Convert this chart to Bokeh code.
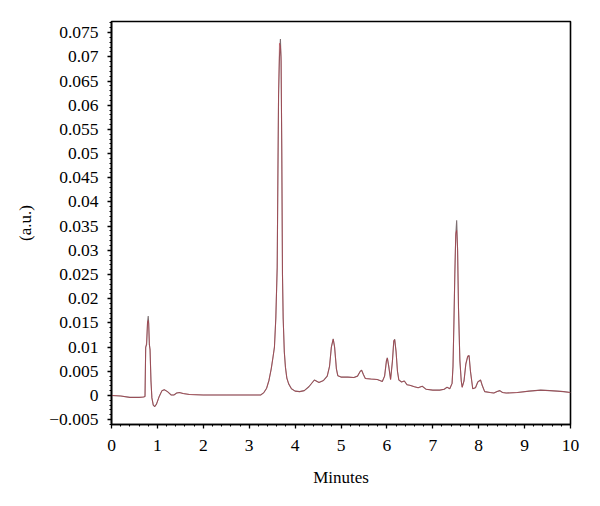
from bokeh.plotting import figure
from bokeh.models import SingleIntervalTicker, CustomJSTickFormatter, Range1d
from bokeh.embed import file_html
from bokeh.resources import INLINE

# retention time (minutes)
time_min = [0.00, 0.20, 0.40, 0.60, 0.70, 0.73, 0.745, 0.765, 0.785, 0.800,
            0.810, 0.825, 0.840, 0.860, 0.880, 0.910, 0.940, 0.980, 1.04, 1.10,
            1.15, 1.22, 1.30, 1.36, 1.42, 1.48, 1.56, 1.70, 2.00, 2.50,
            3.00, 3.25, 3.32, 3.38, 3.43, 3.48, 3.52, 3.55, 3.58, 3.61,
            3.625, 3.64, 3.66, 3.68, 3.695, 3.71, 3.725, 3.74, 3.765, 3.79,
            3.82, 3.86, 3.92, 4.00, 4.10, 4.20, 4.30, 4.42, 4.52, 4.62,
            4.70, 4.75, 4.79, 4.83, 4.86, 4.90, 4.93, 5.00, 5.15, 5.28,
            5.36, 5.42, 5.45, 5.49, 5.53, 5.65, 5.79, 5.90, 5.95, 5.99,
            6.01, 6.04, 6.08, 6.12, 6.15, 6.17, 6.20, 6.23, 6.26, 6.32,
            6.38, 6.44, 6.50, 6.60, 6.68, 6.77, 6.85, 7.00, 7.15, 7.25,
            7.31, 7.37, 7.42, 7.44, 7.46, 7.48, 7.50, 7.52, 7.54, 7.56,
            7.59, 7.62, 7.64, 7.68, 7.72, 7.76, 7.79, 7.82, 7.87, 7.93,
            7.98, 8.04, 8.08, 8.13, 8.25, 8.33, 8.40, 8.46, 8.52, 8.60,
            8.84, 9.10, 9.35, 9.55, 9.71, 9.85, 10.0]

# detector signal, dark trace (a.u.)
signal_dark = [0.0000, -0.0001, -0.0004, -0.0004, -0.0003, -0.0002, 0.0100, 0.0105, 0.0150, 0.0164,
               0.0150, 0.0105, 0.0095, 0.0030, -0.0005, -0.0020, -0.0023, -0.0018, -0.0002, 0.0010,
               0.0012, 0.0008, 0.0001, 0.0001, 0.0005, 0.0006, 0.0004, 0.0002, 0.0001, 0.0001,
               0.0001, 0.0001, 0.0006, 0.0015, 0.0031, 0.0055, 0.0080, 0.0100, 0.0160, 0.0265,
               0.0450, 0.0620, 0.0700, 0.0737, 0.0690, 0.0500, 0.0250, 0.0160, 0.0090, 0.0058,
               0.0036, 0.0024, 0.0014, 0.0009, 0.0008, 0.0010, 0.0018, 0.0032, 0.0027, 0.0031,
               0.0040, 0.0060, 0.0100, 0.0117, 0.0100, 0.0055, 0.0041, 0.0038, 0.0038, 0.0037,
               0.0040, 0.0050, 0.0052, 0.0043, 0.0035, 0.0034, 0.0033, 0.0029, 0.0040, 0.0072,
               0.0078, 0.0060, 0.0033, 0.0070, 0.0112, 0.0116, 0.0090, 0.0050, 0.0032, 0.0028,
               0.0030, 0.0022, 0.0021, 0.0018, 0.0016, 0.0019, 0.0013, 0.0011, 0.0011, 0.0013,
               0.0017, 0.0014, 0.0025, 0.0060, 0.0150, 0.0250, 0.0330, 0.0362, 0.0300, 0.0180,
               0.0072, 0.0030, 0.0017, 0.0030, 0.0065, 0.0080, 0.0083, 0.0050, 0.0014, 0.0016,
               0.0028, 0.0032, 0.0020, 0.0008, 0.0006, 0.0005, 0.0008, 0.0010, 0.0006, 0.0005,
               0.0006, 0.0009, 0.0011, 0.0010, 0.0009, 0.0008, 0.0006]

# detector signal, red trace (a.u.)
signal_red = [0.0000, -0.0001, -0.0004, -0.0004, -0.0003, -0.0002, 0.0098, 0.0110, 0.0152, 0.0155,
              0.0148, 0.0106, 0.0094, 0.0030, -0.0005, -0.0020, -0.0023, -0.0018, -0.0002, 0.0010,
              0.0012, 0.0008, 0.0001, 0.0001, 0.0005, 0.0006, 0.0004, 0.0002, 0.0001, 0.0001,
              0.0001, 0.0001, 0.0006, 0.0015, 0.0031, 0.0055, 0.0080, 0.0100, 0.0160, 0.0265,
              0.0460, 0.0630, 0.0728, 0.0722, 0.0700, 0.0510, 0.0250, 0.0160, 0.0090, 0.0058,
              0.0036, 0.0024, 0.0014, 0.0009, 0.0008, 0.0010, 0.0018, 0.0032, 0.0027, 0.0031,
              0.0040, 0.0060, 0.0100, 0.0116, 0.0102, 0.0055, 0.0041, 0.0038, 0.0038, 0.0037,
              0.0040, 0.0050, 0.0052, 0.0043, 0.0035, 0.0034, 0.0033, 0.0029, 0.0040, 0.0071,
              0.0077, 0.0061, 0.0033, 0.0071, 0.0114, 0.0115, 0.0091, 0.0050, 0.0032, 0.0028,
              0.0030, 0.0022, 0.0021, 0.0018, 0.0016, 0.0019, 0.0013, 0.0011, 0.0011, 0.0013,
              0.0017, 0.0014, 0.0025, 0.0060, 0.0150, 0.0255, 0.0335, 0.0341, 0.0305, 0.0180,
              0.0072, 0.0030, 0.0017, 0.0030, 0.0066, 0.0082, 0.0082, 0.0051, 0.0014, 0.0016,
              0.0028, 0.0032, 0.0020, 0.0008, 0.0006, 0.0005, 0.0008, 0.0010, 0.0006, 0.0005,
              0.0006, 0.0009, 0.0011, 0.0010, 0.0009, 0.0008, 0.0006]

assert len(time_min) == len(signal_dark) == len(signal_red)

FONT = "Liberation Serif"

p = figure(width=584, height=490, output_backend="svg", toolbar_location=None,
           x_range=Range1d(0, 10), y_range=Range1d(-0.0060, 0.0773),
           min_border_left=111, min_border_right=14, min_border_top=21, min_border_bottom=66,
           background_fill_color="white", border_fill_color="white")

p.line(time_min, signal_dark, line_color="#7d6f72", line_width=1.1)
p.line(time_min, signal_red, line_color="#b8323f", line_width=1.0, line_alpha=0.55)

p.xgrid.visible = False
p.ygrid.visible = False
p.outline_line_color = "black"
p.outline_line_width = 1.6

p.xaxis.ticker = SingleIntervalTicker(interval=1, num_minor_ticks=5)
p.yaxis.ticker = SingleIntervalTicker(interval=0.005, num_minor_ticks=5)
p.yaxis.formatter = CustomJSTickFormatter(code="""
    const v = Number(tick.toFixed(4));
    if (Math.abs(v) < 1e-9) return "0";
    const s = String(Math.abs(v));
    return v < 0 ? "\u2212" + s : s;
""")

for ax in (p.xaxis[0], p.yaxis[0]):
    ax.axis_line_color = "black"
    ax.axis_line_width = 1.6
    ax.major_tick_line_color = "black"
    ax.minor_tick_line_color = "black"
    ax.major_tick_line_width = 1.3
    ax.minor_tick_line_width = 1.1
    ax.major_tick_in = 0
    ax.major_tick_out = 4
    ax.minor_tick_in = 0
    ax.minor_tick_out = 2
    ax.major_label_text_font = FONT
    ax.major_label_text_font_size = "17.5px"
    ax.major_label_text_color = "black"
    ax.axis_label_text_font = FONT
    ax.axis_label_text_font_size = "17px"
    ax.axis_label_text_font_style = "normal"
    ax.axis_label_text_color = "black"

p.xaxis.axis_label = "Minutes"
p.yaxis.axis_label = "(a.u.)"
p.xaxis.major_label_standoff = 11
p.yaxis.major_label_standoff = 9
p.xaxis.axis_label_standoff = 14
p.yaxis.axis_label_standoff = 11

open("out.html", "w").write(file_html(p, INLINE))
